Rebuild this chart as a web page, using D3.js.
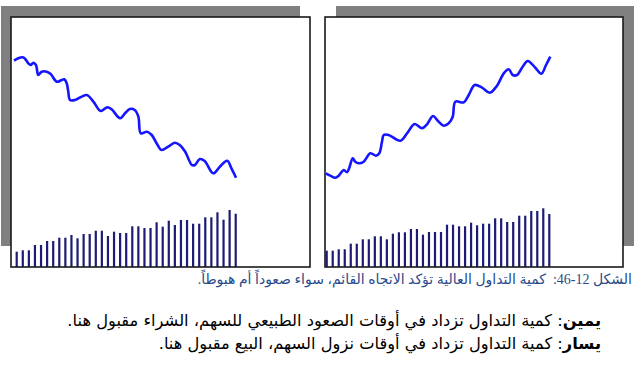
<!DOCTYPE html>
<html>
<head>
<meta charset="utf-8">
<script src="https://cdn.jsdelivr.net/npm/d3@7/dist/d3.min.js"></script>
<style>
  html, body { margin: 0; padding: 0; background: #fff; }
  svg { display: block; }
</style>
</head>
<body>
<div id="chart"></div>
<script>
// volume bars (arbitrary units)
var volumeLeft = [15.3, 16.7, 16.7, 22, 22, 26, 26, 29.3, 29.3, 32, 28.7, 33, 33, 36.3, 36.3, 31,
    35.3, 34, 34, 40.7, 40.7, 39, 39, 44.7, 40.3, 46.3, 42, 47, 47, 43.3, 43.3, 49.7, 49.7,
    54.7, 47.3, 57, 53.3];
var volumeRight = [16.3, 16.3, 17.7, 17.7, 23.3, 23.3, 27.7, 27.7, 30.7, 30.7, 27.7, 33.3, 34.7,
    34.7, 38, 38, 32.3, 35, 35, 35, 42.3, 42.3, 40.7, 40.7, 44.3, 41.7, 43.3, 43.3, 48.7, 48.7,
    45, 45, 51.3, 51.3, 56, 56, 58.7, 53];

// price line: day position (in bar units) and price
var priceDayLeft = [-0.44, 0.26, 0.99, 1.36, 1.91, 2.3, 2.73, 3.17, 3.55, 4.11, 4.93, 5.59, 6.58,
    7.4, 7.83, 8.22, 8.48, 8.76, 9.58, 11.5, 12.6, 13.8, 14.9, 15.6, 17.0, 17.8, 18.6, 19.4,
    20.0, 20.4, 21.4, 22.2, 23.0, 23.8, 24.9, 26.0, 26.8, 27.7, 28.8, 29.3, 30.1, 30.9, 32.3,
    33.4, 34.6, 35.3, 36.05];
var priceLeft = [139.3, 141.7, 142.7, 141.3, 136.7, 135, 137.3, 135, 125, 128.3, 128.3, 126,
    118.3, 120, 120.7, 116.7, 108.3, 100, 100, 105, 98.3, 89, 92.7, 90.7, 81.7, 86.7, 91, 90,
    83.3, 66.7, 68.3, 65, 56.7, 50, 53.3, 57.3, 55, 48.3, 35, 35, 41, 39, 26.7, 33.3, 39.3,
    31.7, 22.3];
var priceDayRight = [-0.12, 0.6, 1.43, 2.0, 2.83, 3.37, 3.76, 4.32, 4.75, 5.32, 6.15, 7.25, 8.2,
    8.74, 9.19, 9.48, 10.3, 12.24, 13.35, 14.63, 15.84, 16.67, 17.67, 18.5, 19.45, 20.28,
    20.95, 21.38, 22.78, 23.61, 24.6, 25.82, 27.1, 28.31, 29.43, 30.26, 30.92, 31.64, 32.47,
    33.42, 34.68, 35.68, 36.46, 37.17];
var priceRight = [26.7, 24.3, 22.3, 24.3, 30, 27.7, 32.3, 41.7, 38.3, 36.7, 38.3, 46.7, 44.3,
    46.7, 58.3, 65, 65, 59.3, 66.7, 76, 71.7, 75.7, 84, 79, 74.3, 76.7, 83.3, 98.3, 97.7, 105,
    115, 112.3, 107.3, 114.3, 126.7, 130.7, 125, 125, 132.3, 139, 132.3, 126.3, 135, 143.3];

var caption = "الشكل 12\u200F-46:  كمية التداول العالية تؤكد الاتجاه القائم، سواء صعوداً أم هبوطاً.";
var noteLabels = ["يمين", "يسار"];
var noteTexts = [": كمية التداول تزداد في أوقات الصعود الطبيعي للسهم، الشراء مقبول هنا.",
    ": كمية التداول تزداد في أوقات نزول السهم، البيع مقبول هنا."];

var width = 638, height = 380;

var svg = d3.select("#chart").append("svg")
    .attr("width", width)
    .attr("height", height);

// price and volume scales are shared by both panels
var yPrice = d3.scaleLinear().domain([20, 145]).range([180, 55]);
var yVol = d3.scaleLinear().domain([0, 60]).range([267, 207]);

function drawPanel(box, shadow, nDays, xRange, volume, days, price) {
    svg.append("rect")
        .attr("x", shadow.x).attr("y", shadow.y)
        .attr("width", box.w).attr("height", box.h - 10)
        .attr("fill", "#808080");

    svg.append("rect")
        .attr("x", box.x).attr("y", box.y)
        .attr("width", box.w).attr("height", box.h)
        .attr("fill", "#fff");

    var x = d3.scaleLinear().domain([0, nDays - 1]).range(xRange);

    svg.append("g").selectAll("rect")
        .data(volume)
        .enter().append("rect")
        .attr("x", function (d, i) { return x(i) - 1.1; })
        .attr("y", function (d) { return yVol(d); })
        .attr("width", 2.2)
        .attr("height", function (d) { return yVol(0) - yVol(d); })
        .attr("fill", "#1c1c74");

    var line = d3.line()
        .x(function (d) { return x(d[0]); })
        .y(function (d) { return yPrice(d[1]); })
        .curve(d3.curveCatmullRom.alpha(0.5));

    svg.append("path")
        .datum(d3.zip(days, price))
        .attr("fill", "none")
        .attr("stroke", "#1515ff")
        .attr("stroke-width", 2.6)
        .attr("stroke-linejoin", "round")
        .attr("d", line);

    svg.append("rect")
        .attr("x", box.x).attr("y", box.y)
        .attr("width", box.w).attr("height", box.h)
        .attr("fill", "none")
        .attr("stroke", "#1a1a1a")
        .attr("stroke-width", 1.6);
}

drawPanel({x: 11, y: 17, w: 299, h: 250}, {x: 1, y: 6}, volumeLeft.length,
    [16.7, 235.7], volumeLeft, priceDayLeft, priceLeft);
drawPanel({x: 325, y: 17, w: 298, h: 250}, {x: 336, y: 6}, volumeRight.length,
    [326.7, 549.3], volumeRight, priceDayRight, priceRight);

svg.append("text")
    .attr("x", 632)
    .attr("y", 284)
    .attr("direction", "rtl")
    .attr("text-anchor", "start")
    .style("white-space", "pre")
    .style("font-family", "'Liberation Serif', 'DejaVu Sans', serif")
    .style("font-size", "14px")
    .attr("fill", "#2a4a8a")
    .text(caption);

noteLabels.forEach(function (label, i) {
    var t = svg.append("text")
        .attr("x", 601)
        .attr("y", 326 + i * 23)
        .attr("direction", "rtl")
        .attr("text-anchor", "start")
        .style("font-family", "'DejaVu Sans', sans-serif")
        .style("font-size", "16.3px")
        .attr("fill", "#000");
    t.append("tspan").style("font-weight", "bold").text(label);
    t.append("tspan").text(noteTexts[i]);
});
</script>
</body>
</html>
